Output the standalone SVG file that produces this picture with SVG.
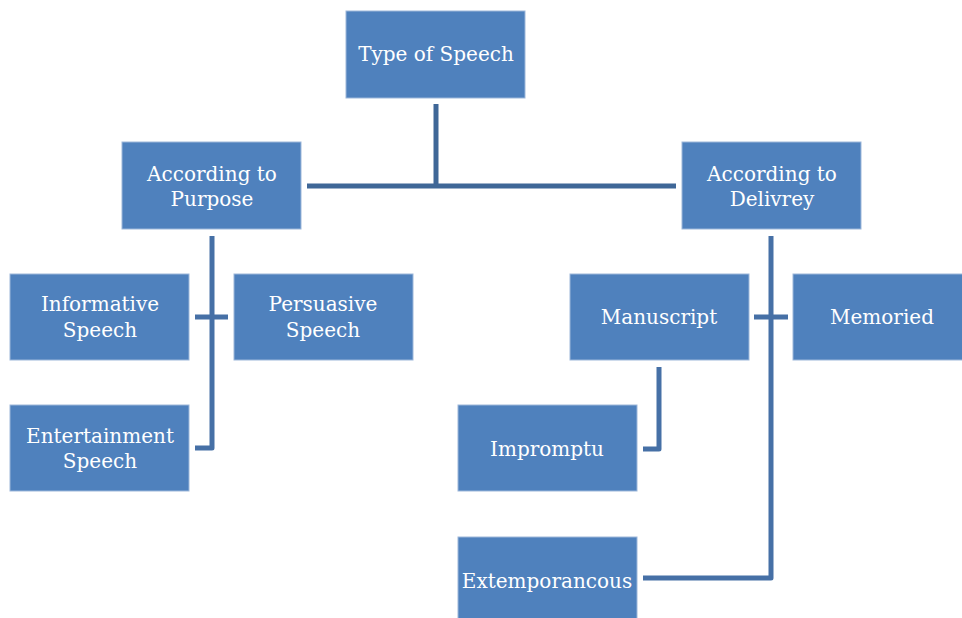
<svg xmlns="http://www.w3.org/2000/svg" width="962" height="618" viewBox="0 0 962 618">
  <style>
    .box { fill: #4F81BD; stroke: #9DB7DA; stroke-width: 1; }
    .lbl { fill: #FFFFFF; font-family: "DejaVu Serif", "Liberation Serif", serif; font-size: 20px; text-anchor: middle; }
    .wire { fill: none; stroke: #4670A6; stroke-width: 5; stroke-linejoin: round; }
    .wire-top { fill: none; stroke: #3F6797; stroke-width: 5; }
  </style>
  <rect width="962" height="618" fill="#FFFFFF"/>

  <!-- connectors -->
  <g id="connectors">
    <line class="wire-top" x1="436" y1="104" x2="436" y2="186"/>
    <line class="wire-top" x1="307" y1="186" x2="676" y2="186"/>
    <polyline class="wire" points="212,236 212,448 195,448"/>
    <line class="wire" x1="195" y1="317" x2="228" y2="317"/>
    <polyline class="wire" points="771,236 771,578 643,578"/>
    <line class="wire" x1="754" y1="317" x2="788" y2="317"/>
    <polyline class="wire" points="659,367 659,449 643,449"/>
  </g>

  <g id="type-of-speech">
    <rect class="box" x="346" y="11" width="179" height="87"/>
    <text class="lbl" x="436" y="61">Type of Speech</text>
  </g>
  <g id="according-to-purpose">
    <rect class="box" x="122" y="142" width="179" height="87"/>
    <text class="lbl" x="212" y="181">According to</text>
    <text class="lbl" x="212" y="206">Purpose</text>
  </g>
  <g id="according-to-delivrey">
    <rect class="box" x="682" y="142" width="179" height="87"/>
    <text class="lbl" x="772" y="181">According to</text>
    <text class="lbl" x="772" y="206">Delivrey</text>
  </g>
  <g id="informative-speech">
    <rect class="box" x="10" y="274" width="179" height="86"/>
    <text class="lbl" x="100" y="311">Informative</text>
    <text class="lbl" x="100" y="337">Speech</text>
  </g>
  <g id="persuasive-speech">
    <rect class="box" x="234" y="274" width="179" height="86"/>
    <text class="lbl" x="323" y="311">Persuasive</text>
    <text class="lbl" x="323" y="337">Speech</text>
  </g>
  <g id="entertainment-speech">
    <rect class="box" x="10" y="405" width="179" height="86"/>
    <text class="lbl" x="100" y="443">Entertainment</text>
    <text class="lbl" x="100" y="468">Speech</text>
  </g>
  <g id="manuscript">
    <rect class="box" x="570" y="274" width="179" height="86"/>
    <text class="lbl" x="659" y="324">Manuscript</text>
  </g>
  <g id="memoried">
    <rect class="box" x="793" y="274" width="179" height="86"/>
    <text class="lbl" x="882" y="324">Memoried</text>
  </g>
  <g id="impromptu">
    <rect class="box" x="458" y="405" width="179" height="86"/>
    <text class="lbl" x="547" y="456">Impromptu</text>
  </g>
  <g id="extemporancous">
    <rect class="box" x="458" y="537" width="179" height="86"/>
    <text class="lbl" x="547" y="588">Extemporancous</text>
  </g>
</svg>
